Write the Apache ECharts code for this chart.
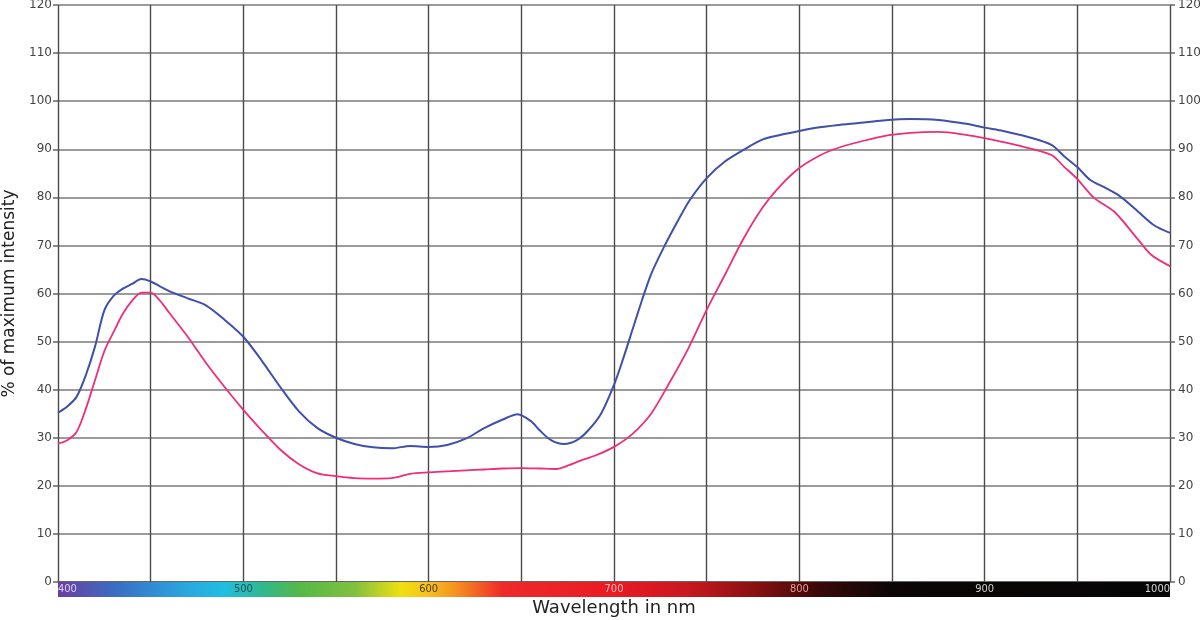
<!DOCTYPE html>
<html><head><meta charset="utf-8">
<script src="https://cdn.jsdelivr.net/npm/echarts@6/dist/echarts.min.js"></script>
<style>html,body{margin:0;padding:0;background:#fff}#c{width:1200px;height:620px}</style>
</head><body><div id="c"></div>
<script>
const blueNm = [400,405,410,415,420,425,430,435,440,445,450,455,460,470,480,490,500,510,520,530,540,550,560,570,580,590,600,610,620,630,640,648,655,660,666,673,680,686,693,700,705,710,715,720,727,735,741,750,760,770,780,790,800,810,820,833,845,860,875,890,900,910,923,936,943,950,957,965,972,980,991,1000];
const blueVal = [35.2,36.5,38.5,43,49,56.5,59.5,61,62,63,62.5,61.5,60.5,59,57.5,54.5,51,46,40.5,35.5,32,30,28.7,28,27.8,28.3,28.1,28.5,29.8,32,33.8,34.9,33.5,31.5,29.5,28.7,29.5,31.5,35,41,46.5,52.5,58.5,64,69.7,75.5,79.5,84,87.5,89.9,92,93,93.8,94.5,95,95.5,96,96.3,96.1,95.3,94.5,93.8,92.6,90.9,88.5,86.3,83.6,82,80.5,78,74.3,72.6];
const pinkNm = [400,405,410,415,420,425,430,435,440,445,450,455,460,470,480,490,500,510,520,530,540,550,560,570,580,590,600,610,620,630,640,650,660,669,675,683,690,700,710,720,730,740,750,760,770,780,790,800,810,818,830,845,860,875,890,900,910,921,936,943,950,959,970,983,990,1000];
const pinkVal = [28.8,29.5,31.2,36,42,48,52,55.8,58.5,60.2,60.2,58.5,56,51,45.5,40.5,35.8,31.5,27.5,24.5,22.6,22,21.6,21.5,21.6,22.5,22.8,23,23.2,23.4,23.6,23.7,23.6,23.5,24.2,25.4,26.3,28.1,30.8,35,41.5,48.5,56.6,64,71.5,77.8,82.5,86.1,88.5,89.9,91.3,92.7,93.4,93.6,93,92.3,91.5,90.5,88.8,86.3,83.8,79.9,77,71.1,68,65.7];
const barLabels = [400,500,600,700,800,900,1000];
const barLabelColors = ['#e0d0f5','#1b4f55','#4a3c00','#ffb8b8','#e89a9a','#cfcfcf','#d5d5d5'];
const spectrumNm = [400,430,470,490,510,530,560,585,600,615,640,700,740,780,810,850,1000];
const spectrumCol = ['#6b3fa0','#3b6cc0','#2aa8e0','#1fbee0','#30b890','#55b848','#80c040','#f0e010','#f5c020','#f59020','#ee2a2a','#e81c24','#c81820','#801010','#3a0808','#0c0606','#060606'];

const pairs = (xs, ys) => xs.map((x, i) => [x, ys[i]]);
const rich = {};
barLabels.forEach((v, i) => { rich['c' + i] = { color: barLabelColors[i], fontSize: 11, fontFamily: 'DejaVu Sans Condensed, DejaVu Sans' }; });

const chart = echarts.init(document.getElementById('c'));
const yCommon = {
  type: 'value', min: 0, max: 120, interval: 10,
  axisLine: { show: false },
  axisTick: { show: true, length: 5, lineStyle: { color: '#666', width: 1.5 } },
  axisLabel: { color: '#444', fontSize: 12, fontFamily: 'DejaVu Sans', margin: 6 },
  splitLine: { show: true, lineStyle: { color: '#7a7a7a', width: 1.6 } }
};
chart.setOption({
  animation: false,
  grid: [
    { left: 58, right: 30, top: 5, bottom: 38, containLabel: false, outerBoundsMode: 'none' },
    { left: 58, right: 30, top: 582, height: 15, containLabel: false, outerBoundsMode: 'none' }
  ],
  xAxis: [
    { type: 'value', gridIndex: 0, min: 400, max: 1000, interval: 50,
      axisLine: { show: true, onZero: false, lineStyle: { color: '#555', width: 1.5 } },
      axisTick: { show: false }, axisLabel: { show: false },
      splitLine: { show: true, lineStyle: { color: '#4a4a4a', width: 1.4 } } },
    { type: 'value', gridIndex: 1, min: 400, max: 1000, interval: 100, position: 'top', z: 10,
      axisLine: { show: false }, axisTick: { show: false }, splitLine: { show: false },
      axisLabel: { inside: true, margin: 2, alignMinLabel: 'left', alignMaxLabel: 'right',
        formatter: v => { const i = barLabels.indexOf(v); return '{c' + i + '|' + v + '}'; }, rich: rich } },
    { type: 'value', gridIndex: 1, min: 400, max: 1000, position: 'bottom', show: true,
      axisLine: { show: false }, axisTick: { show: false }, splitLine: { show: false }, axisLabel: { show: false },
      name: 'Wavelength in nm', nameLocation: 'middle', nameGap: 2,
      nameTextStyle: { fontSize: 18, color: '#222', fontFamily: 'DejaVu Sans' } }
  ],
  yAxis: [
    Object.assign({}, yCommon, { gridIndex: 0, position: 'left',
      name: '% of maximum intensity', nameLocation: 'middle', nameGap: 31, nameRotate: 90,
      nameTextStyle: { fontSize: 17, color: '#222', fontFamily: 'DejaVu Sans' } }),
    Object.assign({}, yCommon, { gridIndex: 0, position: 'right', splitLine: { show: false },
      axisLabel: { color: '#444', fontSize: 12, fontFamily: 'DejaVu Sans', margin: 8 } }),
    { type: 'value', gridIndex: 1, min: 0, max: 1, show: false }
  ],
  series: [
    { type: 'line', xAxisIndex: 0, yAxisIndex: 0, data: pairs(blueNm, blueVal), smooth: 0.3,
      symbol: 'none', lineStyle: { color: '#3f4fab', width: 2 }, z: 3 },
    { type: 'line', xAxisIndex: 0, yAxisIndex: 0, data: pairs(pinkNm, pinkVal), smooth: 0.3,
      symbol: 'none', lineStyle: { color: '#ee2d7c', width: 1.8 }, z: 3 },
    { type: 'line', xAxisIndex: 1, yAxisIndex: 2, data: [], symbol: 'none', silent: true, z: 1,
      markArea: { silent: true, data: [[{ xAxis: 400, yAxis: 0 }, { xAxis: 1000, yAxis: 1 }]],
        itemStyle: { color: new echarts.graphic.LinearGradient(0, 0, 1, 0,
          spectrumNm.map((n, i) => ({ offset: (n - 400) / 600, color: spectrumCol[i] }))) } } }
  ]
});
</script></body></html>
